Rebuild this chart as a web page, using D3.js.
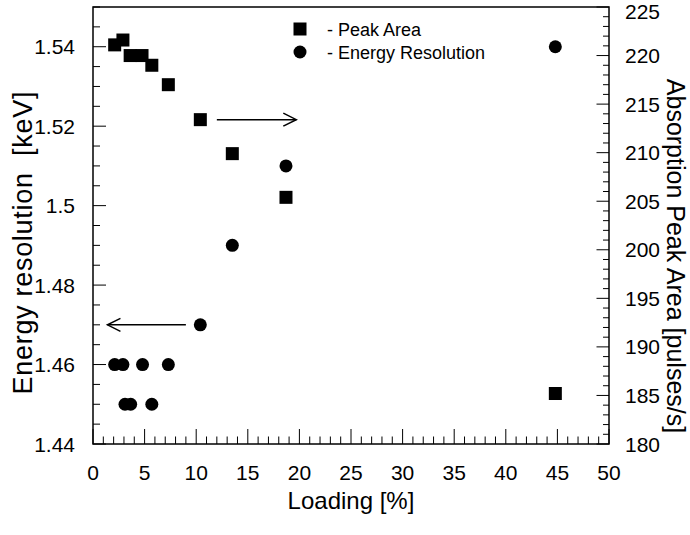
<!DOCTYPE html>
<html>
<head>
<meta charset="utf-8">
<script src="https://cdn.jsdelivr.net/npm/d3@7"></script>
<style>
  html, body { margin: 0; padding: 0; background: #fff; }
  svg { display: block; font-family: "Liberation Sans", Arial, sans-serif; }
</style>
</head>
<body>
<svg id="chart" width="690" height="535"></svg>
<script>
// ---- data ----
const areaLoading = [2.1, 2.9, 3.6, 4.75, 5.7, 7.3, 10.4, 13.5, 18.7, 44.8];
const peakArea    = [221.1, 221.6, 220.0, 220.0, 219.0, 217.0, 213.4, 209.9, 205.4, 185.2];
const resLoading  = [2.1, 2.9, 3.1, 3.65, 4.8, 5.7, 7.3, 10.4, 13.5, 18.7, 44.8];
const energyRes   = [1.46, 1.46, 1.45, 1.45, 1.46, 1.45, 1.46, 1.47, 1.49, 1.51, 1.54];
const xTicks = [0, 5, 10, 15, 20, 25, 30, 35, 40, 45, 50];
const yLeftTicks = [1.44, 1.46, 1.48, 1.5, 1.52, 1.54];
const yRightTicks = [180, 185, 190, 195, 200, 205, 210, 215, 220, 225];
const legendLabels = ["- Peak Area", "- Energy Resolution"];
// arrows in data units
const arrowLeft  = {from: 9.0, to: 1.4, y: 1.47};   // left axis
const arrowRight = {from: 12.0, to: 19.7, y: 213.4}; // right axis

const svg = d3.select("#chart");
const m = {left: 93, top: 7, right: 81, bottom: 91};
const W = 690 - m.left - m.right, H = 535 - m.top - m.bottom;
const g = svg.append("g").attr("transform", `translate(${m.left},${m.top})`);

const x = d3.scaleLinear().domain([0, 50]).range([0, W]);
const yL = d3.scaleLinear().domain([1.44, 1.55]).range([H, 0]);
const yR = d3.scaleLinear().domain([180, 225]).range([H, 0]);

// minor ticks
const xMinor = d3.range(0, 51, 1).filter(v => v % 5 !== 0);
const yLMinor = d3.range(0, 23).map(i => +(1.44 + i * 0.005).toFixed(3)).filter(v => !yLeftTicks.some(t => Math.abs(t - v) < 1e-6));
const yRMinor = d3.range(180, 226, 1).filter(v => v % 5 !== 0);

const tickStyle = sel => sel.attr("stroke", "#000").attr("stroke-width", 1);

// bottom ticks (inward)
g.selectAll(".xmaj").data(xTicks).enter().append("line")
  .attr("x1", d => x(d)).attr("x2", d => x(d)).attr("y1", H).attr("y2", H - 15).call(tickStyle);
g.selectAll(".xmin").data(xMinor).enter().append("line")
  .attr("x1", d => x(d)).attr("x2", d => x(d)).attr("y1", H).attr("y2", H - 7.5).call(tickStyle);
// left ticks
g.selectAll(".ylmaj").data(yLeftTicks).enter().append("line")
  .attr("x1", 0).attr("x2", 13).attr("y1", d => yL(d)).attr("y2", d => yL(d)).call(tickStyle);
g.selectAll(".ylmin").data(yLMinor).enter().append("line")
  .attr("x1", 0).attr("x2", 7).attr("y1", d => yL(d)).attr("y2", d => yL(d)).call(tickStyle);
// right ticks
g.selectAll(".yrmaj").data(yRightTicks).enter().append("line")
  .attr("x1", W).attr("x2", W - 12.5).attr("y1", d => yR(d)).attr("y2", d => yR(d)).call(tickStyle);
g.selectAll(".yrmin").data(yRMinor).enter().append("line")
  .attr("x1", W).attr("x2", W - 6).attr("y1", d => yR(d)).attr("y2", d => yR(d)).call(tickStyle);

// frame
g.append("rect").attr("x", 0).attr("y", 0).attr("width", W).attr("height", H)
  .attr("fill", "none").attr("stroke", "#000").attr("stroke-width", 1.5);

// tick labels
const fs = 21;
g.selectAll(".xl").data(xTicks).enter().append("text")
  .attr("x", d => x(d)).attr("y", H + 36).attr("text-anchor", "middle")
  .attr("font-size", fs).text(d => d);
g.selectAll(".yll").data(yLeftTicks).enter().append("text")
  .attr("x", -18).attr("y", d => yL(d) + 7.5).attr("text-anchor", "end")
  .attr("font-size", fs).text(d => d);
g.selectAll(".yrl").data(yRightTicks).enter().append("text")
  .attr("x", W + 16).attr("y", d => Math.max(yR(d) + 7.5, 12.2)).attr("text-anchor", "start")
  .attr("font-size", fs).text(d => d);

// axis titles
svg.append("text").attr("x", m.left + W / 2).attr("y", 509).attr("text-anchor", "middle")
  .attr("font-size", 24).text("Loading [%]");
svg.append("text").attr("transform", `translate(32,243) rotate(-90)`)
  .attr("text-anchor", "middle").attr("font-size", 27).attr("xml:space", "preserve")
  .attr("textLength", 303).attr("lengthAdjust", "spacing")
  .text("Energy resolution  [keV]");
svg.append("text").attr("transform", `translate(667,256) rotate(90)`)
  .attr("text-anchor", "middle").attr("font-size", 25).text("Absorption Peak Area [pulses/s]");

// data marks
const sq = 13;
g.selectAll(".sq").data(areaLoading.map((v, i) => [v, peakArea[i]])).enter().append("rect")
  .attr("x", d => x(d[0]) - sq / 2).attr("y", d => yR(d[1]) - sq / 2)
  .attr("width", sq).attr("height", sq).attr("fill", "#000");
g.selectAll(".ci").data(resLoading.map((v, i) => [v, energyRes[i]])).enter().append("circle")
  .attr("cx", d => x(d[0])).attr("cy", d => yL(d[1])).attr("r", 6.5).attr("fill", "#000");

// arrows
function arrow(x0, x1, y) {
  const dir = Math.sign(x1 - x0);
  g.append("line").attr("x1", x0).attr("x2", x1).attr("y1", y).attr("y2", y)
    .attr("stroke", "#000").attr("stroke-width", 1.5);
  g.append("path").attr("d", `M${x1 - dir * 13},${y - 6.5}L${x1},${y}L${x1 - dir * 13},${y + 6.5}`)
    .attr("fill", "none").attr("stroke", "#000").attr("stroke-width", 1.5);
}
arrow(x(arrowLeft.from), x(arrowLeft.to), yL(arrowLeft.y));
arrow(x(arrowRight.from), x(arrowRight.to), yR(arrowRight.y));

// legend
const lg = svg.append("g");
lg.append("rect").attr("x", 300 - 6.5).attr("y", 29 - 6.5).attr("width", 13).attr("height", 13).attr("fill", "#000");
lg.append("circle").attr("cx", 300).attr("cy", 52).attr("r", 6.5).attr("fill", "#000");
lg.selectAll(".lt").data(legendLabels).enter().append("text")
  .attr("x", 327).attr("y", (d, i) => 35.5 + i * 23).attr("font-size", 18).text(d => d);
</script>
</body>
</html>
